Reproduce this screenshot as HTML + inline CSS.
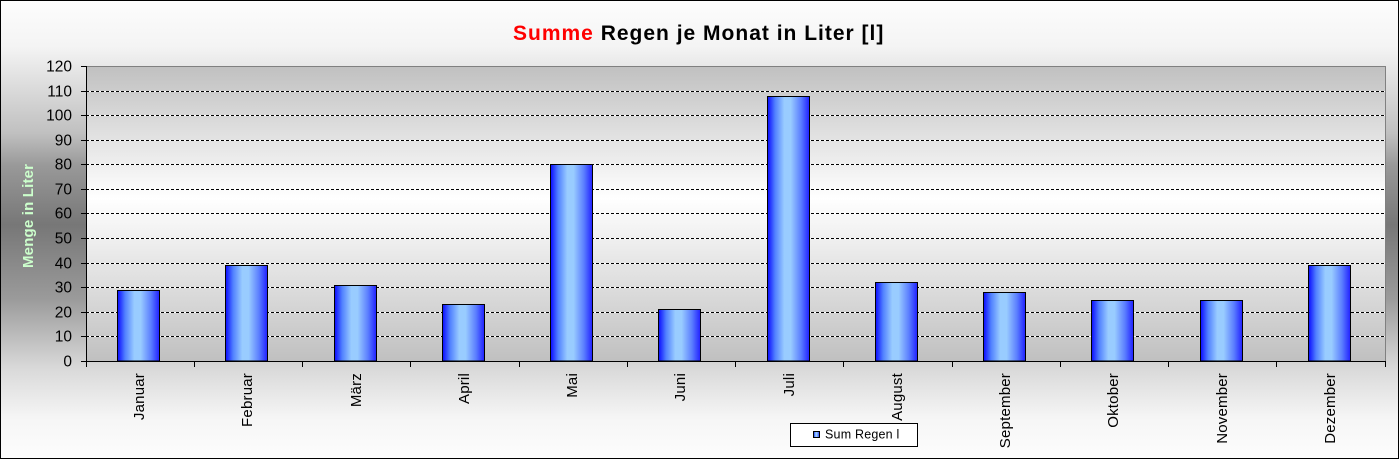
<!DOCTYPE html>
<html>
<head>
<meta charset="utf-8">
<style>
html,body{margin:0;padding:0;background:#fff;}
svg{display:block;}
text{font-family:"Liberation Sans",Arial,sans-serif;}
</style>
</head>
<body>
<svg width="1400" height="460" viewBox="0 0 1400 460" xmlns="http://www.w3.org/2000/svg">
<defs>
<linearGradient id="outer" x1="0" y1="0" x2="0" y2="1">
<stop offset="0" stop-color="#fdfdfd"/>
<stop offset="0.10" stop-color="#f4f4f4"/>
<stop offset="0.29" stop-color="#c0c0c0"/>
<stop offset="0.36" stop-color="#999999"/>
<stop offset="0.49" stop-color="#777777"/>
<stop offset="0.65" stop-color="#9a9a9a"/>
<stop offset="0.80" stop-color="#d8d8d8"/>
<stop offset="0.91" stop-color="#f5f5f5"/>
<stop offset="1" stop-color="#fdfdfd"/>
</linearGradient>
<linearGradient id="plot" x1="0" y1="0" x2="0" y2="1">
<stop offset="0" stop-color="#c0c0c0"/>
<stop offset="0.45" stop-color="#ffffff"/>
<stop offset="1" stop-color="#c0c0c0"/>
</linearGradient>
<linearGradient id="bar" x1="0" y1="0" x2="1" y2="0">
<stop offset="0" stop-color="#0a0aff"/>
<stop offset="0.18" stop-color="#5080ff"/>
<stop offset="0.40" stop-color="#99ccff"/>
<stop offset="0.55" stop-color="#99ccff"/>
<stop offset="0.80" stop-color="#5a7dff"/>
<stop offset="1" stop-color="#2020ff"/>
</linearGradient>
</defs>

<!-- chart area -->
<rect x="0.5" y="0.5" width="1398" height="458" fill="url(#outer)" stroke="#000" stroke-width="1"/>

<!-- title -->
<text x="513" y="40" font-size="21" font-weight="bold" letter-spacing="1" fill="#000"><tspan fill="#ff0000">Summe</tspan> Regen je Monat in Liter [l]</text>

<!-- y axis title -->
<text transform="translate(33,216) rotate(-90)" text-anchor="middle" font-size="15" font-weight="bold" fill="#ccffcc" textLength="104" lengthAdjust="spacing">Menge in Liter</text>

<!-- plot area -->
<rect x="86" y="66" width="1299" height="295" fill="url(#plot)"/>

<!-- gridlines -->
<g stroke-width="1">
<g stroke="#ffffff">
<line x1="86" x2="1385" y1="91.5" y2="91.5"/>
<line x1="86" x2="1385" y1="115.5" y2="115.5"/>
<line x1="86" x2="1385" y1="140.5" y2="140.5"/>
<line x1="86" x2="1385" y1="164.5" y2="164.5"/>
<line x1="86" x2="1385" y1="189.5" y2="189.5"/>
<line x1="86" x2="1385" y1="213.5" y2="213.5"/>
<line x1="86" x2="1385" y1="238.5" y2="238.5"/>
<line x1="86" x2="1385" y1="263.5" y2="263.5"/>
<line x1="86" x2="1385" y1="287.5" y2="287.5"/>
<line x1="86" x2="1385" y1="312.5" y2="312.5"/>
<line x1="86" x2="1385" y1="336.5" y2="336.5"/>
</g>
<g stroke="#000000" stroke-dasharray="3 2">
<line x1="86" x2="1385" y1="91.5" y2="91.5"/>
<line x1="86" x2="1385" y1="115.5" y2="115.5"/>
<line x1="86" x2="1385" y1="140.5" y2="140.5"/>
<line x1="86" x2="1385" y1="164.5" y2="164.5"/>
<line x1="86" x2="1385" y1="189.5" y2="189.5"/>
<line x1="86" x2="1385" y1="213.5" y2="213.5"/>
<line x1="86" x2="1385" y1="238.5" y2="238.5"/>
<line x1="86" x2="1385" y1="263.5" y2="263.5"/>
<line x1="86" x2="1385" y1="287.5" y2="287.5"/>
<line x1="86" x2="1385" y1="312.5" y2="312.5"/>
<line x1="86" x2="1385" y1="336.5" y2="336.5"/>
</g>
</g>

<!-- plot border top/right -->
<polyline points="86,66.5 1385.5,66.5 1385.5,361" fill="none" stroke="#808080" stroke-width="1"/>

<!-- bars -->
<g fill="url(#bar)" stroke="#000" stroke-width="1">
<rect x="117.5" y="290.5" width="42" height="70.5"/>
<rect x="225.5" y="265.5" width="42" height="95.5"/>
<rect x="334.5" y="285.5" width="42" height="75.5"/>
<rect x="442.5" y="304.5" width="42" height="56.5"/>
<rect x="550.5" y="164.5" width="42" height="196.5"/>
<rect x="658.5" y="309.5" width="42" height="51.5"/>
<rect x="767.5" y="96.5" width="42" height="264.5"/>
<rect x="875.5" y="282.5" width="42" height="78.5"/>
<rect x="983.5" y="292.5" width="42" height="68.5"/>
<rect x="1091.5" y="300.5" width="42" height="60.5"/>
<rect x="1200.5" y="300.5" width="42" height="60.5"/>
<rect x="1308.5" y="265.5" width="42" height="95.5"/>
</g>

<!-- axes -->
<g stroke="#000" stroke-width="1">
<line x1="86.5" y1="66" x2="86.5" y2="362"/>
<line x1="81" y1="361.5" x2="1386" y2="361.5"/>
<!-- y ticks -->
<line x1="81" x2="86" y1="66.5" y2="66.5"/>
<line x1="81" x2="86" y1="91.5" y2="91.5"/>
<line x1="81" x2="86" y1="115.5" y2="115.5"/>
<line x1="81" x2="86" y1="140.5" y2="140.5"/>
<line x1="81" x2="86" y1="164.5" y2="164.5"/>
<line x1="81" x2="86" y1="189.5" y2="189.5"/>
<line x1="81" x2="86" y1="213.5" y2="213.5"/>
<line x1="81" x2="86" y1="238.5" y2="238.5"/>
<line x1="81" x2="86" y1="263.5" y2="263.5"/>
<line x1="81" x2="86" y1="287.5" y2="287.5"/>
<line x1="81" x2="86" y1="312.5" y2="312.5"/>
<line x1="81" x2="86" y1="336.5" y2="336.5"/>
<!-- x ticks -->
<line y1="361" y2="367" x1="86.5" x2="86.5"/>
<line y1="361" y2="367" x1="194.5" x2="194.5"/>
<line y1="361" y2="367" x1="302.5" x2="302.5"/>
<line y1="361" y2="367" x1="410.5" x2="410.5"/>
<line y1="361" y2="367" x1="519.5" x2="519.5"/>
<line y1="361" y2="367" x1="627.5" x2="627.5"/>
<line y1="361" y2="367" x1="735.5" x2="735.5"/>
<line y1="361" y2="367" x1="843.5" x2="843.5"/>
<line y1="361" y2="367" x1="952.5" x2="952.5"/>
<line y1="361" y2="367" x1="1060.5" x2="1060.5"/>
<line y1="361" y2="367" x1="1168.5" x2="1168.5"/>
<line y1="361" y2="367" x1="1276.5" x2="1276.5"/>
<line y1="361" y2="367" x1="1385.5" x2="1385.5"/>
</g>

<!-- y labels -->
<g font-size="15.5" text-anchor="end" fill="#000">
<text x="72" y="71.5">120</text>
<text x="72" y="96.5">110</text>
<text x="72" y="120.5">100</text>
<text x="72" y="145.5">90</text>
<text x="72" y="169.5">80</text>
<text x="72" y="194.5">70</text>
<text x="72" y="218.5">60</text>
<text x="72" y="243.5">50</text>
<text x="72" y="268.5">40</text>
<text x="72" y="292.5">30</text>
<text x="72" y="317.5">20</text>
<text x="72" y="341.5">10</text>
<text x="72" y="366.5">0</text>
</g>

<!-- x labels -->
<g font-size="15" letter-spacing="0.2" text-anchor="end" fill="#000">
<text transform="translate(144,373) rotate(-90)">Januar</text>
<text transform="translate(252,373) rotate(-90)">Februar</text>
<text transform="translate(361,373) rotate(-90)">März</text>
<text transform="translate(469,373) rotate(-90)">April</text>
<text transform="translate(577,373) rotate(-90)">Mai</text>
<text transform="translate(685,373) rotate(-90)">Juni</text>
<text transform="translate(794,373) rotate(-90)">Juli</text>
<text transform="translate(902,373) rotate(-90)">August</text>
<text transform="translate(1010,373) rotate(-90)">September</text>
<text transform="translate(1118,373) rotate(-90)">Oktober</text>
<text transform="translate(1227,373) rotate(-90)">November</text>
<text transform="translate(1335,373) rotate(-90)">Dezember</text>
</g>

<!-- legend -->
<rect x="790.5" y="423.5" width="127" height="23" fill="#fff" stroke="#000" stroke-width="1"/>
<rect x="813.5" y="431.5" width="6" height="6" fill="url(#bar)" stroke="#000" stroke-width="1"/>
<text x="825" y="438.5" font-size="12.5" letter-spacing="0.2" fill="#000">Sum Regen l</text>
</svg>
</body>
</html>
